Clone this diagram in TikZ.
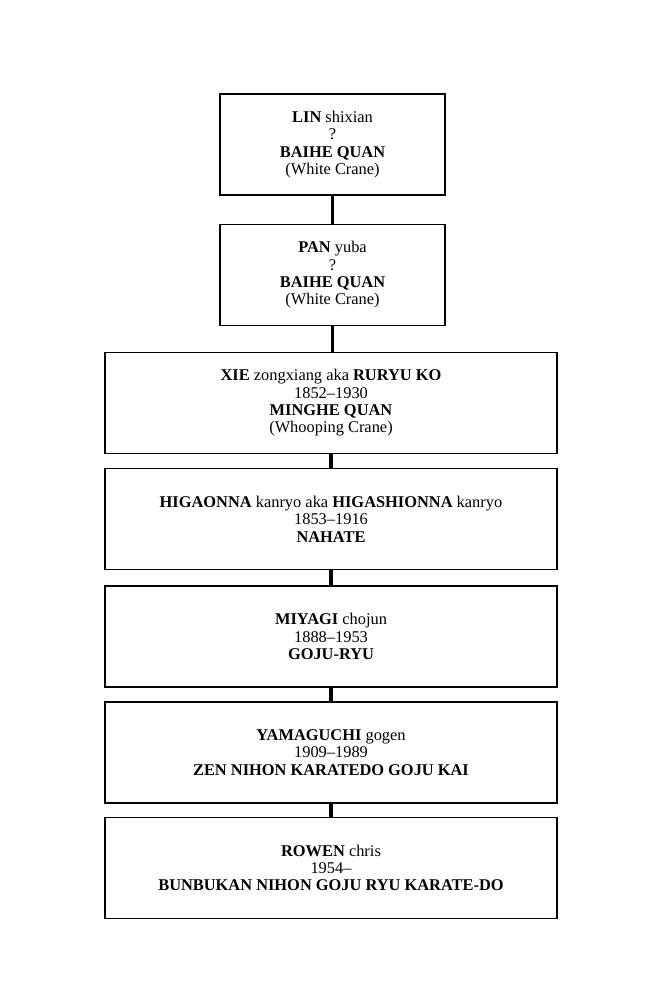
\documentclass[tikz,border=0pt]{standalone}
\usepackage{fontspec}
\setmainfont{Liberation Serif}
\usetikzlibrary{positioning}

\begin{document}
\begin{tikzpicture}[x=0.75pt,y=-0.75pt,
  font=\fontsize{12.3}{13}\selectfont,
  box/.style={draw,line width=1.1pt,align=center,inner sep=0pt,minimum height=75.5pt},
  narrowbox/.style={box,minimum width=168.5pt},
  widebox/.style={box,minimum width=339pt},
  link/.style={line width=2.6pt}]
\useasboundingbox (0,0) rectangle (655,995);
% lineage, top to bottom
\node[narrowbox] (lin) at (332.5,144.5) {\textbf{LIN} shixian\\?\\\textbf{BAIHE QUAN}\\(White Crane)};
\node[narrowbox] (pan) at (332.5,275) {\textbf{PAN} yuba\\?\\\textbf{BAIHE QUAN}\\(White Crane)};
\node[widebox] (xie) at (331,403) {\textbf{XIE} zongxiang aka \textbf{RURYU KO}\\1852--1930\\\textbf{MINGHE QUAN}\\(Whooping Crane)};
\node[widebox] (higaonna) at (331,519) {\textbf{HIGAONNA} kanryo aka \textbf{HIGASHIONNA} kanryo\\1853--1916\\\textbf{NAHATE}};
\node[widebox] (miyagi) at (331,636.5) {\textbf{MIYAGI} chojun\\1888--1953\\\textbf{GOJU-RYU}};
\node[widebox] (yamaguchi) at (331,752.5) {\textbf{YAMAGUCHI} gogen\\1909--1989\\\textbf{ZEN NIHON KARATEDO GOJU KAI}};
\node[widebox] (rowen) at (331,868) {\textbf{ROWEN} chris\\1954--\\\textbf{BUNBUKAN NIHON GOJU RYU KARATE-DO}};
% connectors
\draw[link] (lin.south) -- (pan.north);
\draw[link] (pan.south) -- (pan.south |- xie.north);
\draw[link] (xie.south) -- (higaonna.north);
\draw[link] (higaonna.south) -- (miyagi.north);
\draw[link] (miyagi.south) -- (yamaguchi.north);
\draw[link] (yamaguchi.south) -- (rowen.north);
\end{tikzpicture}
\end{document}
